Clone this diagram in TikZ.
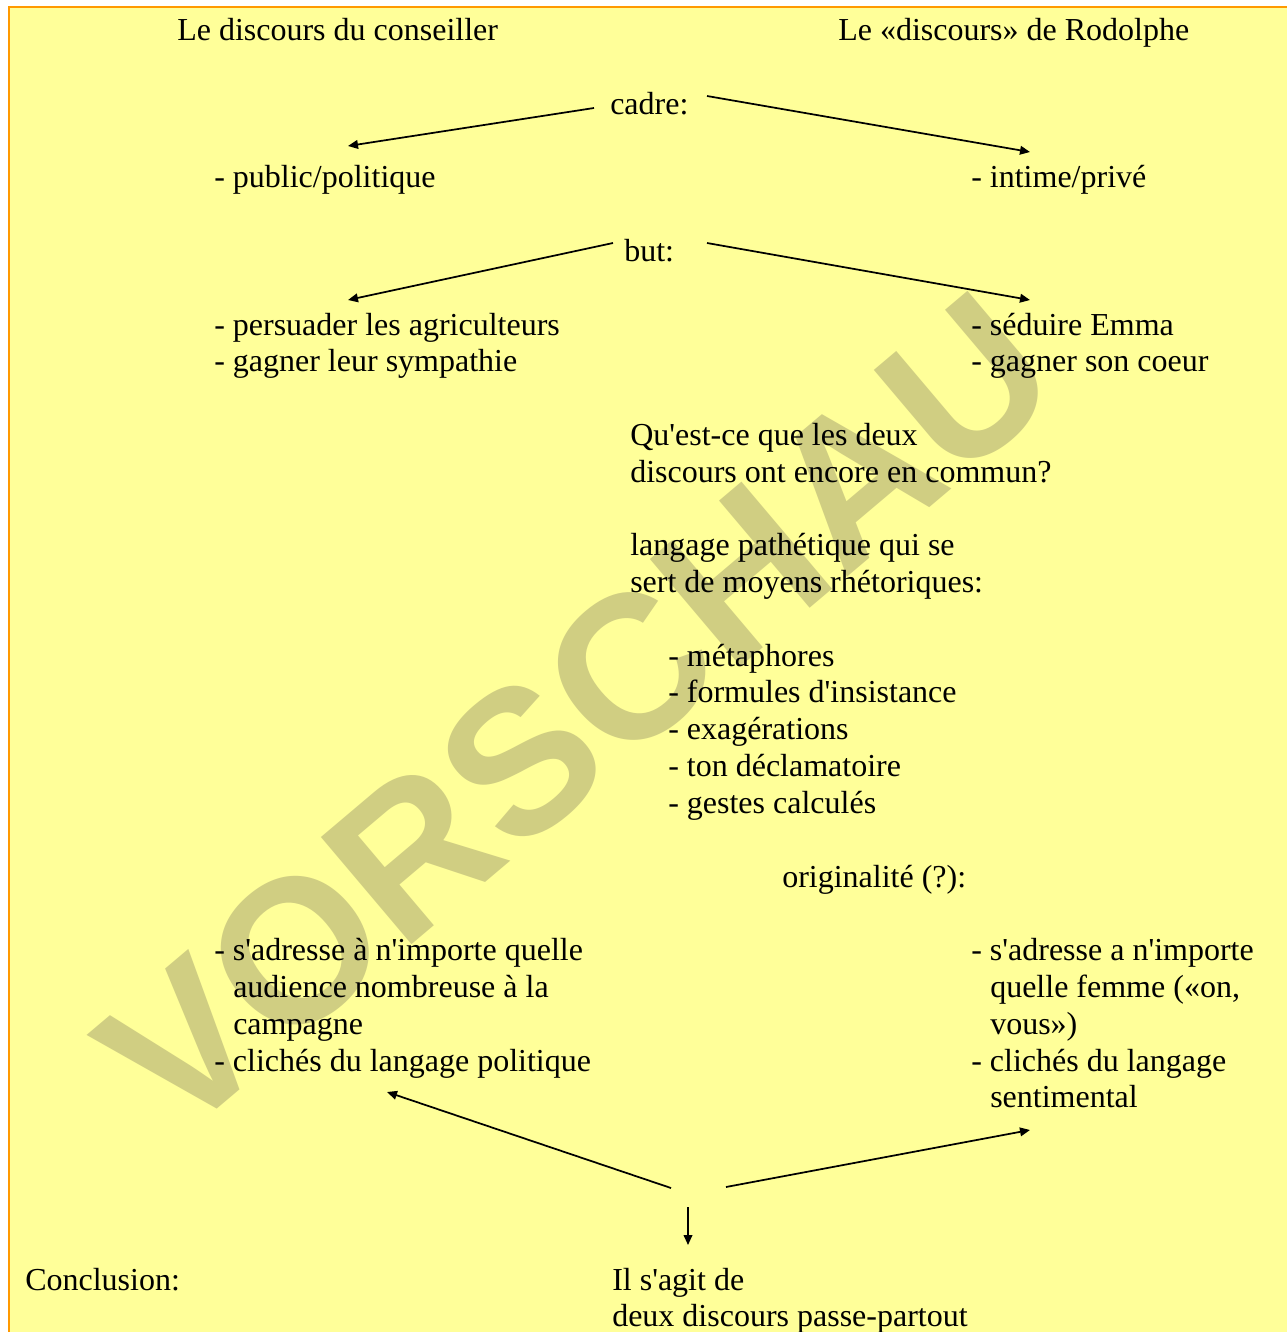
\documentclass[tikz,border=0pt]{standalone}
\usepackage{fontspec}
\usetikzlibrary{arrows.meta}
\newfontfamily\txtfont{Liberation Serif}
\newfontfamily\wmfont{Liberation Sans}
\definecolor{bgyellow}{RGB}{255,255,153}
\definecolor{frameorange}{RGB}{255,153,0}
\definecolor{wmcolor}{RGB}{208,206,130}
\tikzset{
  txt/.style={anchor=base west, inner sep=0pt, font=\txtfont\fontsize{24}{27.6}\selectfont},
  arr/.style={line width=1.3pt, -{Triangle[length=7.5pt,width=6.5pt]}},
  wmark/.style={inner sep=0pt, text=wmcolor, font=\wmfont\bfseries\fontsize{153}{153}\selectfont}
}
\begin{document}
\begin{tikzpicture}[x=0.75pt,y=-0.75pt]
\useasboundingbox (0,0) rectangle (1287,1332);
\clip (0,0) rectangle (1287,1332);
\fill[white] (0,0) rectangle (1287,1332);
\draw[draw=frameorange, line width=1.5pt, fill=bgyellow] (9,7) rectangle (1300,1345);
% watermark
\node[wmark, rotate=40.2] (wm) at (577,713) {VORSCHAU};
% headings
\node[txt] (h1) at (177,40) {Le discours du conseiller};
\node[txt] (h2) at (838,40) {Le «discours» de Rodolphe};
% cadre
\node[txt] (cadre) at (610,114) {cadre:};
\node[txt] (pub) at (214,187) {- public/politique};
\node[txt] (int) at (971,187) {- intime/privé};
% but
\node[txt] (but) at (624,261) {but:};
\node[txt] (la1) at (214,335) {- persuader les agriculteurs};
\node[txt] (la2) at (214,371) {- gagner leur sympathie};
\node[txt] (ra1) at (971,335) {- séduire Emma};
\node[txt] (ra2) at (971,371) {- gagner son coeur};
% common
\node[txt] (q1) at (630,445) {Qu'est-ce que les deux};
\node[txt] (q2) at (630,482) {discours ont encore en commun?};
\node[txt] (p1) at (630,555) {langage pathétique qui se};
\node[txt] (p2) at (630,592) {sert de moyens rhétoriques:};
\node[txt] (m1) at (668,666) {- métaphores};
\node[txt] (m2) at (668,702) {- formules d'insistance};
\node[txt] (m3) at (668,739) {- exagérations};
\node[txt] (m4) at (668,776) {- ton déclamatoire};
\node[txt] (m5) at (668,813) {- gestes calculés};
\node[txt] (orig) at (782,887) {originalité (?):};
% originality blocks
\node[txt] (lb1) at (214,960) {- s'adresse à n'importe quelle};
\node[txt] (lb2) at (233,997) {audience nombreuse à la};
\node[txt] (lb3) at (233,1034) {campagne};
\node[txt] (lb4) at (214,1071) {- clichés du langage politique};
\node[txt] (rb1) at (971,960) {- s'adresse a n'importe};
\node[txt] (rb2) at (990,997) {quelle femme («on,};
\node[txt] (rb3) at (990,1034) {vous»)};
\node[txt] (rb4) at (971,1071) {- clichés du langage};
\node[txt] (rb5) at (990,1107) {sentimental};
% conclusion
\node[txt] (concl) at (25,1290) {Conclusion:};
\node[txt] (c1) at (612,1290) {Il s'agit de};
\node[txt] (c2) at (612,1326) {deux discours passe-partout};
% arrow end points
\coordinate (a1s) at (594,108);  \coordinate (a1e) at (348,146);
\coordinate (a2s) at (707,96);   \coordinate (a2e) at (1030,152);
\coordinate (a3s) at (613,243);  \coordinate (a3e) at (348,300);
\coordinate (a4s) at (707,243);  \coordinate (a4e) at (1030,300);
\coordinate (a5s) at (671,1188); \coordinate (a5e) at (387,1092);
\coordinate (a6s) at (726,1187); \coordinate (a6e) at (1030,1130);
\coordinate (a7s) at (688,1207); \coordinate (a7e) at (688,1245);
\draw[arr] (a1s) -- (a1e);
\draw[arr] (a2s) -- (a2e);
\draw[arr] (a3s) -- (a3e);
\draw[arr] (a4s) -- (a4e);
\draw[arr] (a5s) -- (a5e);
\draw[arr] (a6s) -- (a6e);
\draw[arr] (a7s) -- (a7e);
\end{tikzpicture}
\end{document}
